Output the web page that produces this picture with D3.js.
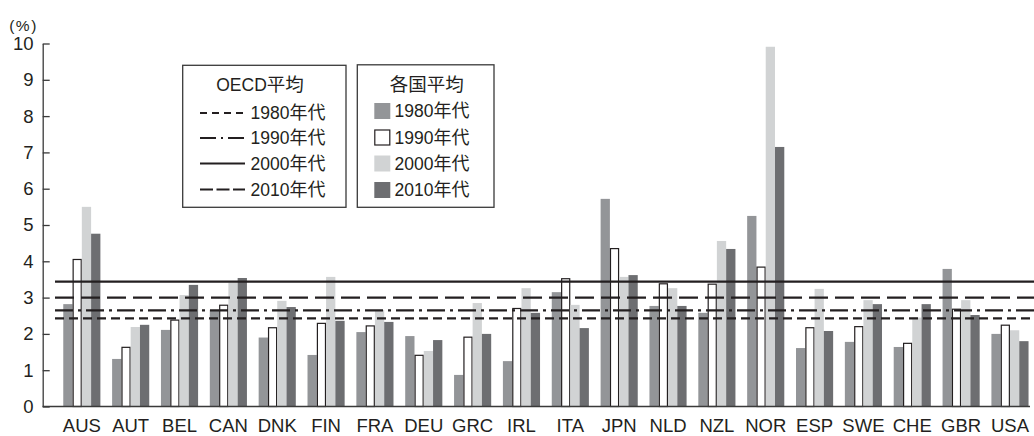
<!DOCTYPE html>
<html>
<head>
<meta charset="utf-8">
<script src="https://cdn.jsdelivr.net/npm/d3@7"></script>
<style>
  html, body { margin: 0; padding: 0; background: #fff; }
  svg { display: block; font-family: "Liberation Sans", Arial, "Noto Sans CJK JP", sans-serif; }
</style>
</head>
<body>
<svg id="chart" width="1034" height="436"></svg>
<script>
// Country codes along the x axis
const countries = ["AUS","AUT","BEL","CAN","DNK","FIN","FRA","DEU","GRC","IRL",
                   "ITA","JPN","NLD","NZL","NOR","ESP","SWE","CHE","GBR","USA"];
const decadeYears = ["1980","1990","2000","2010"];
const decadeSuffix = "年代";

// Country averages per decade (%)
const v1980 = [2.82,1.31,2.11,2.66,1.90,1.42,2.05,1.94,0.87,1.25,3.15,5.72,2.77,2.58,5.25,1.61,1.78,1.64,3.79,2.00];
const v1990 = [4.05,1.63,2.38,2.79,2.17,2.29,2.22,1.41,1.91,2.70,3.52,4.35,3.38,3.37,3.84,2.17,2.20,1.74,2.68,2.24];
const v2000 = [5.50,2.19,3.07,3.42,2.91,3.57,2.66,1.53,2.85,3.26,2.80,3.57,3.26,4.56,9.91,3.24,2.93,2.45,2.93,2.10];
const v2010 = [4.76,2.25,3.35,3.54,2.74,2.36,2.33,1.83,2.00,2.58,2.16,3.62,2.77,4.34,7.15,2.08,2.82,2.82,2.52,1.80];

// OECD averages per decade (%)
const oecdAvg = [2.43, 2.65, 3.44, 3.00];

const yTicks = [0,1,2,3,4,5,6,7,8,9,10];

const series = [v1980, v1990, v2000, v2010];
const ink = "#231f20";
const fills = ["#939598", "#ffffff", "#d1d3d4", "#6d6e71"];
const lineDash = ["9,5", "18,5,3,5", null, "19,7"];
const legendDash = ["7,5", "16,5,2,5", null, "13,3.5"];
const latinFont = "Liberation Sans, Arial, sans-serif";
const cjkFont = "Noto Sans CJK JP, sans-serif";

const svg = d3.select("#chart");

const axisX = 42.7;
const x = d3.scaleBand().domain(countries).range([57.4, 1034.4])
  .paddingInner(0.24).paddingOuter(0.12);
const xs = d3.scaleBand().domain(d3.range(4)).range([0, x.bandwidth()]);
const y = d3.scaleLinear().domain([0, 10]).range([406.5, 43.5]);

// Bars
const rows = countries.map((c, i) => ({ c, vals: series.map(s => s[i]) }));
const g = svg.append("g");
g.selectAll("g.grp").data(rows).join("g")
  .attr("class", "grp")
  .attr("transform", d => `translate(${x(d.c)},0)`)
  .selectAll("rect").data(d => d.vals.map((v, k) => ({ v, k }))).join("rect")
  .attr("x", d => xs(d.k) + (d.k === 1 ? 0.6 : 0))
  .attr("width", d => xs.bandwidth() - (d.k === 1 ? 1.2 : 0))
  .attr("y", d => y(d.v))
  .attr("height", d => y(0) - y(d.v))
  .attr("fill", d => fills[d.k])
  .attr("stroke", d => d.k === 1 ? ink : "none")
  .attr("stroke-width", 1.2);

// OECD average lines
svg.append("g").selectAll("line").data(oecdAvg).join("line")
  .attr("x1", 55).attr("x2", 1034)
  .attr("y1", d => y(d)).attr("y2", d => y(d))
  .attr("stroke", ink).attr("stroke-width", 2.2)
  .attr("stroke-dasharray", (d, i) => lineDash[i]);

// Y axis
const yAxis = d3.axisLeft(y).tickValues(yTicks).tickSize(-7).tickPadding(9.2).tickSizeOuter(0);
const ya = svg.append("g").attr("transform", `translate(${axisX},0)`).call(yAxis);
ya.select(".domain").attr("stroke", "#3a3a3a").attr("stroke-width", 1.3);
ya.selectAll(".tick line").attr("stroke", "#3a3a3a").attr("stroke-width", 1.3);
ya.selectAll(".tick text").attr("font-size", 18.5).attr("fill", ink)
  .attr("font-family", latinFont);

// Baseline
svg.append("line").attr("x1", axisX).attr("x2", 1030)
  .attr("y1", y(0)).attr("y2", y(0)).attr("stroke", "#3a3a3a").attr("stroke-width", 1.3);

// Country labels
const xAxis = d3.axisBottom(x).tickSize(0).tickPadding(12.5);
const xa = svg.append("g").attr("transform", `translate(0,${y(0)})`).call(xAxis);
xa.select(".domain").remove();
xa.selectAll(".tick text").attr("font-size", 18.5).attr("fill", ink)
  .attr("font-family", latinFont);

// Unit label
svg.append("text").attr("x", 23.5).attr("y", 30.5).attr("text-anchor", "middle")
  .attr("font-size", 15.5).attr("letter-spacing", 1.5).attr("fill", ink).text("(%)");

// "1980年代" style label: digits in the Latin face, suffix in the CJK face
function decadeLabel(sel, i) {
  sel.append("tspan").attr("font-family", latinFont).attr("font-size", 17.5).text(decadeYears[i]);
  sel.append("tspan").attr("font-family", cjkFont).attr("font-size", 18).text(decadeSuffix);
}

// Legend: OECD averages
const lg1 = svg.append("g");
lg1.append("rect").attr("x", 182.7).attr("y", 65.3).attr("width", 163.3).attr("height", 142)
  .attr("fill", "#fff").attr("stroke", "#3a3a3a").attr("stroke-width", 1.3);
const t1 = lg1.append("text").attr("x", 260).attr("y", 91).attr("text-anchor", "middle").attr("fill", ink);
t1.append("tspan").attr("font-family", latinFont).attr("font-size", 17.5).text("OECD");
t1.append("tspan").attr("font-family", cjkFont).attr("font-size", 18.5).text("平均");
const rowY = [113, 138, 163.5, 189.5];
decadeYears.forEach((d, i) => {
  lg1.append("line").attr("x1", 200).attr("x2", 245)
    .attr("y1", rowY[i]).attr("y2", rowY[i])
    .attr("stroke", ink).attr("stroke-width", 2)
    .attr("stroke-dasharray", legendDash[i]);
  lg1.append("text").attr("x", 250.5).attr("y", rowY[i] + 6.3).attr("fill", ink)
    .call(decadeLabel, i);
});

// Legend: country averages
const lg2 = svg.append("g");
lg2.append("rect").attr("x", 357.3).attr("y", 64.8).attr("width", 136.7).attr("height", 142.5)
  .attr("fill", "#fff").attr("stroke", "#3a3a3a").attr("stroke-width", 1.3);
lg2.append("text").attr("x", 426.7).attr("y", 90.5).attr("text-anchor", "middle")
  .attr("font-family", cjkFont).attr("font-size", 18.5).attr("fill", ink).text("各国平均");
const rowY2 = [111, 137.5, 163.5, 190];
decadeYears.forEach((d, i) => {
  lg2.append("rect").attr("x", 374.3 + (i === 1 ? 0.5 : 0)).attr("y", rowY2[i] - 8 + (i === 1 ? 0.5 : 0))
    .attr("width", i === 1 ? 15 : 16).attr("height", i === 1 ? 15 : 16)
    .attr("fill", fills[i]).attr("stroke", i === 1 ? ink : "none").attr("stroke-width", 1.2);
  lg2.append("text").attr("x", 394.5).attr("y", rowY2[i] + 6.3).attr("fill", ink)
    .call(decadeLabel, i);
});
</script>
</body>
</html>
